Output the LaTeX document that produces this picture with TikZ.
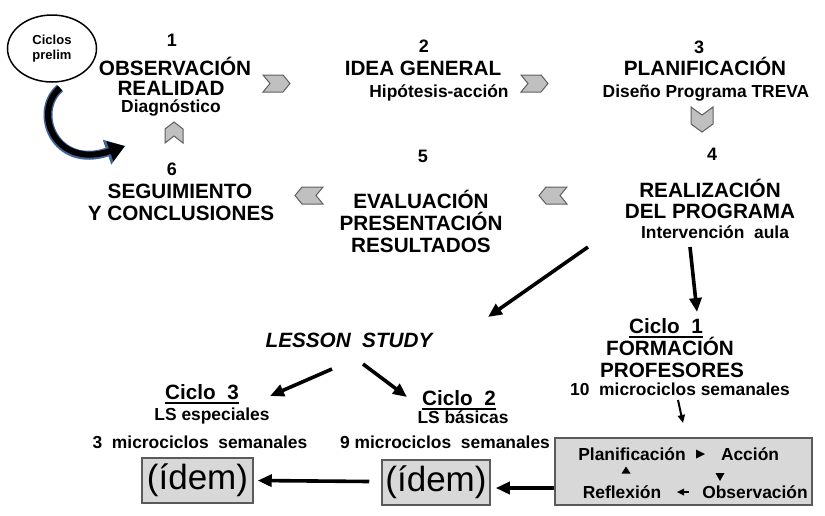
\documentclass[tikz,border=0pt]{standalone}
\usepackage{fontspec}
\setmainfont{Liberation Sans}
\usetikzlibrary{arrows.meta,shapes.geometric}
\newcommand\myfs[1]{\fontsize{#1}{#1}\selectfont}
\definecolor{chevfill}{RGB}{192,192,192}
\definecolor{chevdraw}{RGB}{95,95,95}
\definecolor{boxfill}{RGB}{216,216,216}
\definecolor{boxdraw}{RGB}{90,90,90}
\definecolor{glow}{RGB}{65,100,150}
\begin{document}
\begin{tikzpicture}[x=1pt,y=-1pt,
 hd/.style={font=\bfseries\myfs{20.7},inner sep=0pt,anchor=base},
 sub/.style={font=\bfseries\myfs{17.4},inner sep=0pt,anchor=base},
 num/.style={font=\bfseries\myfs{18},inner sep=0pt,anchor=base},
 chev/.style={fill=chevfill,draw=chevdraw,line width=1pt,line join=miter},
 arr/.style={line width=3.6pt,-{Triangle[length=14pt,width=12pt]}},
 gbox/.style={draw=boxdraw,fill=boxfill,line width=1.5pt,inner sep=0pt},
 uline/.style={line width=1.3pt}]
\useasboundingbox (0,0) rectangle (825,515);
\fill[white] (0,0) rectangle (825,515);

% ---- ellipse and curved arrow
\node[draw,ellipse,line width=1.5pt,minimum width=89pt,minimum height=67pt,inner sep=0pt,align=center,font=\bfseries\myfs{13}] (prelim) at (52,48.5) {Ciclos\\[2pt]prelim};
\coordinate (cA) at (60,88);
\coordinate (cB) at (125,146);
\draw[glow,line width=9pt,-{Triangle[length=19pt,width=25pt]}] (cA) .. controls (32,112) and (55,170) .. (cB);
\draw[black,line width=6pt,-{Triangle[length=16pt,width=20pt]}] (cA) .. controls (32,112) and (55,170) .. (cB);

% ---- step 1
\node[num] (n1) at (172,46) {1};
\node[hd] (o1a) at (175,75.5) {OBSERVACIÓN};
\node[hd] (o1b) at (171,95.5) {REALIDAD};
\node[sub] (o1c) at (171,112) {Diagnóstico};
% ---- step 2
\node[num] (n2) at (424,52) {2};
\node[hd] (i2a) at (423,75) {IDEA GENERAL};
\node[sub] (i2b) at (439,97) {Hipótesis-acción};
% ---- step 3
\node[num] (n3) at (699,53) {3};
\node[hd] (p3a) at (705,75) {PLANIFICACIÓN};
\node[sub] (p3b) at (706,97) {Diseño Programa TREVA};
% ---- step 4
\node[num] (n4) at (712,160) {4};
\node[hd] (r4a) at (710,197) {REALIZACIÓN};
\node[hd] (r4b) at (710,218) {DEL PROGRAMA};
\node[sub] (r4c) at (715,238) {Intervención~~aula};
% ---- step 5
\node[num] (n5) at (423,162) {5};
\node[hd] (e5a) at (421,208) {EVALUACIÓN};
\node[hd] (e5b) at (421,230) {PRESENTACIÓN};
\node[hd] (e5c) at (421,252) {RESULTADOS};
% ---- step 6
\node[num] (n6) at (172,175) {6};
\node[hd] (s6a) at (180,198) {SEGUIMIENTO};
\node[hd] (s6b) at (181,220) {Y CONCLUSIONES};

% ---- chevrons
\path[chev] (263,75) -- (283,75) -- (290,83.5) -- (283,92) -- (263,92) -- (270,83.5) -- cycle;
\path[chev] (521,75) -- (541,75) -- (548,83.5) -- (541,92) -- (521,92) -- (528,83.5) -- cycle;
\path[chev] (567,187) -- (546,187) -- (539,195.5) -- (546,204) -- (567,204) -- (560,195.5) -- cycle;
\path[chev] (323,187) -- (302,187) -- (295,195.5) -- (302,204) -- (323,204) -- (316,195.5) -- cycle;
\path[chev] (691,107) -- (702,115) -- (713,107) -- (713,124) -- (702,132) -- (691,124) -- cycle;
\path[chev] (165,143) -- (174,136) -- (183,143) -- (183,129) -- (174,122) -- (165,129) -- cycle;

% ---- lower part
\node[hd] (c1) at (666,333) {Ciclo~~1};
\draw[uline] ([yshift=-4pt]c1.base west) -- ([yshift=-4pt]c1.base east);
\node[hd] (f1a) at (670,355) {FORMACIÓN};
\node[hd] (f1b) at (672,377) {PROFESORES};
\node[sub] (f1c) at (680,395) {10~~microciclos semanales};

\node[hd,font=\bfseries\itshape\myfs{20.7}] (ls) at (349,347) {LESSON~~STUDY};

\node[hd] (c3) at (202,399) {Ciclo~~3};
\draw[uline] ([yshift=-4pt]c3.base west) -- ([yshift=-4pt]c3.base east);
\node[sub] (c3b) at (212,420) {LS especiales};
\node[sub] (c3c) at (200,448) {3~~microciclos~~semanales};

\node[hd] (c2) at (459,405) {Ciclo~~2};
\draw[uline] ([yshift=-4pt]c2.base west) -- ([yshift=-4pt]c2.base east);
\node[sub] (c2b) at (463,423) {LS básicas};
\node[sub] (c2c) at (445,448) {9 microciclos~~semanales};

\node[gbox,minimum width=111pt,minimum height=45pt,font=\myfs{35}] (idem1) at (197.5,480.5) {(ídem)};
\node[gbox,minimum width=108pt,minimum height=45pt,font=\myfs{35}] (idem2) at (436,482.5) {(ídem)};
\node[gbox,minimum width=257pt,minimum height=67pt] (cyc) at (683.5,471.5) {};

\node[sub] (pl) at (632,460) {Planificación};
\node[sub] (ac) at (750,460) {Acción};
\node[sub] (re) at (622,498) {Reflexión};
\node[sub] (ob) at (755,498) {Observación};
\fill (696,449.5) -- (705,454) -- (696,458.5) -- cycle;
\fill (621.5,473.5) -- (626,466.5) -- (630.5,473.5) -- cycle;
\fill (715.5,473) -- (724.5,473) -- (720,481) -- cycle;
\fill (677,492) -- (684,488.5) -- (684,495.5) -- cycle;
\draw[line width=1.5pt] (683,492) -- (689,492);

% ---- arrows
\coordinate (d1) at (588,247);
\coordinate (d2) at (488,317);
\draw[arr] (d1) -- (d2);
\coordinate (v1) at (690,247);
\coordinate (v2) at (697,312);
\draw[arr] (v1) -- (v2);
\coordinate (l1) at (332,369);
\coordinate (l2) at (270,396);
\draw[arr] (l1) -- (l2);
\coordinate (r1) at (363,364);
\coordinate (r2) at (407,397);
\draw[arr] (r1) -- (r2);
\coordinate (s1) at (678,400);
\coordinate (s2) at (683,423);
\draw[line width=2pt,-{Triangle[length=8pt,width=7pt]}] (s1) -- (s2);
\draw[arr] ([yshift=-16.5pt]cyc.west) -- ([xshift=5pt,yshift=-5.5pt]idem2.east);
\draw[arr] ([xshift=-12pt,yshift=1pt]idem2.west) -- ([xshift=4pt]idem1.east);
\end{tikzpicture}
\end{document}
